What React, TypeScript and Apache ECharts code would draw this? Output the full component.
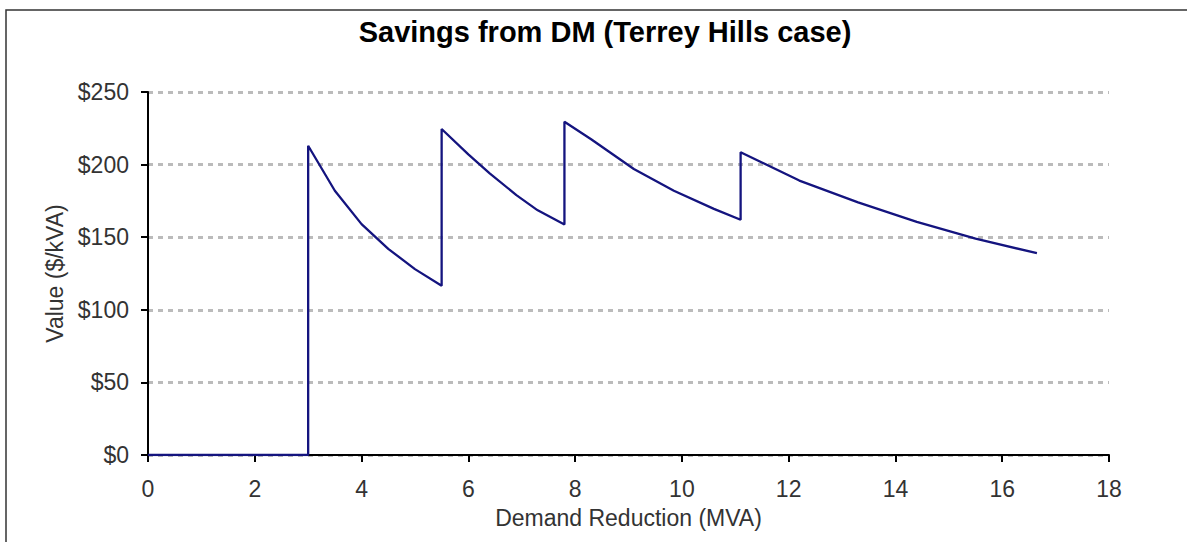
import React, { useEffect, useRef } from "react";
import * as echarts from "echarts";

const titleText = "Savings from DM (Terrey Hills case)";
const xAxisTitle = "Demand Reduction (MVA)";
const yAxisTitle = "Value ($/kVA)";

// Demand reduction (MVA)
const xValues = [
  0, 3, 3, 3.5, 4, 4.5, 5, 5.5, 5.5, 6, 6.4, 6.9, 7.3, 7.8, 7.8, 8.3, 9.1, 9.85,
  10.6, 11.1, 11.1, 12.2, 13.3, 14.4, 15.5, 16.65,
];
// Value ($/kVA)
const yValues = [
  0, 0, 213, 182, 159, 142, 128, 116.5, 224.5, 207, 194, 179, 168.5, 158.7,
  229.5, 217.5, 197, 182, 169.5, 162, 208.5, 189, 174, 160.5, 149, 139,
];

export default function App() {
  const ref = useRef<HTMLDivElement>(null);
  useEffect(() => {
    if (!ref.current) return;
    const chart = echarts.init(ref.current, null, { renderer: "svg" });
    const font = "'Liberation Sans', Arial, sans-serif";
    chart.setOption({
      animation: false,
      backgroundColor: "#ffffff",
      textStyle: { fontFamily: font },
      title: {
        text: titleText,
        left: 600,
        top: 12,
        textAlign: "center",
        textStyle: { fontFamily: font, fontSize: 29, fontWeight: "bold", color: "#000" },
      },
      graphic: [
        {
          type: "rect",
          shape: { x: 6, y: 10, width: 1300, height: 700 },
          style: { fill: "none", stroke: "#333", lineWidth: 1.5 },
          silent: true,
        },
      ],
      grid: { left: 148, right: 78, top: 92, bottom: 87, containLabel: false },
      xAxis: {
        type: "value",
        min: 0,
        max: 18,
        interval: 2,
        name: xAxisTitle,
        nameLocation: "middle",
        nameGap: 51,
        nameTextStyle: { fontFamily: font, fontSize: 23, color: "#333" },
        axisLine: { show: true, onZero: false, lineStyle: { color: "#000", width: 2 } },
        axisTick: { show: true, inside: false, length: 7, lineStyle: { color: "#000", width: 2 } },
        axisLabel: { fontFamily: font, fontSize: 23, color: "#333", margin: 22 },
        splitLine: { show: false },
      },
      yAxis: {
        type: "value",
        min: 0,
        max: 250,
        interval: 50,
        name: yAxisTitle,
        nameLocation: "middle",
        nameGap: 80,
        nameRotate: 90,
        nameTextStyle: { fontFamily: font, fontSize: 23, color: "#333" },
        axisLine: { show: true, lineStyle: { color: "#000", width: 2 } },
        axisTick: { show: true, inside: false, length: 7, lineStyle: { color: "#000", width: 2 } },
        axisLabel: {
          fontFamily: font,
          fontSize: 23,
          color: "#333",
          margin: 19,
          formatter: (v: number) => "$" + v,
        },
        splitLine: {
          show: true,
          lineStyle: { color: "#bbbbbb", width: 3, type: [5, 5] },
        },
      },
      series: [
        {
          type: "line",
          data: xValues.map((x, i) => [x, yValues[i]]),
          showSymbol: false,
          symbol: "none",
          lineStyle: { color: "#14147f", width: 2.3 },
          z: 5,
        },
      ],
    });
    return () => chart.dispose();
  }, []);
  return (
    <div
      ref={ref}
      style={{ position: "absolute", left: 0, top: 0, width: 1187, height: 542 }}
    />
  );
}
